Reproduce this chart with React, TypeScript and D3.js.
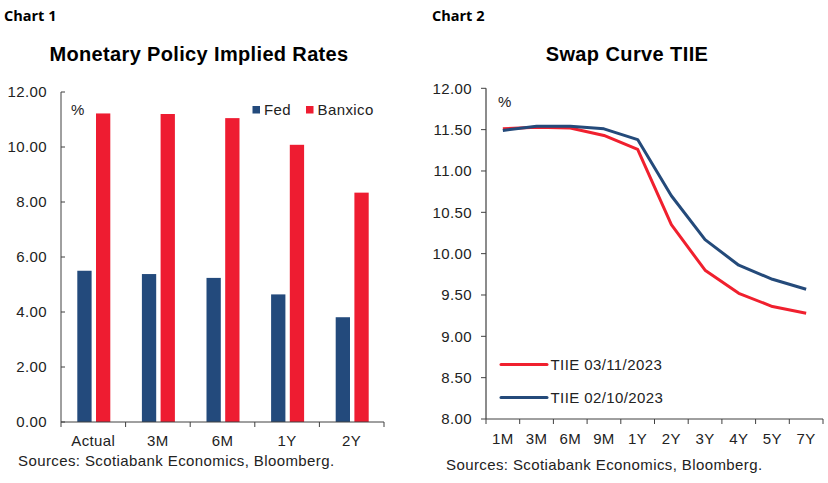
import { useEffect, useRef } from 'react';
import * as d3 from 'd3';

// Chart 1 data
const horizons = ['Actual', '3M', '6M', '1Y', '2Y'];
const fedRates = [5.5, 5.38, 5.24, 4.64, 3.81];
const banxicoRates = [11.22, 11.2, 11.05, 10.08, 8.34];
const barTicks = [0, 2, 4, 6, 8, 10, 12];

// Chart 2 data
const tenors = ['1M', '3M', '6M', '9M', '1Y', '2Y', '3Y', '4Y', '5Y', '7Y'];
const tiieNov = [11.51, 11.53, 11.52, 11.43, 11.26, 10.35, 9.8, 9.52, 9.36, 9.28];
const tiieOct = [11.49, 11.54, 11.54, 11.51, 11.38, 10.7, 10.17, 9.86, 9.69, 9.57];
const swapTicks = [8, 8.5, 9, 9.5, 10, 10.5, 11, 11.5, 12];

const BLUE = '#234a7c';
const RED = '#ee1c31';
const LINE_BLUE = '#244a7a';
const LINE_RED = '#f0202e';
const FONT = "'Liberation Sans', Arial, sans-serif";
const HEAD_FONT = "'Open Sans', 'Noto Sans', sans-serif";
const TXT = '#222';

export default function App() {
  const svgRef = useRef<SVGSVGElement>(null);

  useEffect(() => {
    const svg = d3.select(svgRef.current);
    svg.selectAll('*').remove();
    svg.append('rect').attr('width', 828).attr('height', 483).attr('fill', 'white');

    const label = (g: any, x: number, y: number, t: string, anchor = 'start') =>
      g.append('text').attr('x', x).attr('y', y).attr('text-anchor', anchor)
        .attr('font-family', FONT).attr('font-size', 15).attr('letter-spacing', 0.4)
        .attr('fill', TXT).text(t);

    // ---------- Chart 1 ----------
    svg.append('text').attr('x', 4).attr('y', 21)
      .attr('font-family', HEAD_FONT).attr('font-weight', 700).attr('font-size', 14.5)
      .text('Chart 1');
    svg.append('text').attr('x', 199).attr('y', 61).attr('text-anchor', 'middle')
      .attr('font-family', FONT).attr('font-weight', 700).attr('font-size', 20).attr('letter-spacing', 0.35)
      .text('Monetary Policy Implied Rates');

    const x1 = d3.scaleBand().domain(horizons).range([61, 384]);
    const y1 = d3.scaleLinear().domain([0, 12]).range([422, 92]);
    const g1 = svg.append('g');

    const barW = 14.3;
    horizons.forEach((h, i) => {
      const b = x1(h)!;
      g1.append('rect')
        .attr('x', b + 16.3).attr('y', y1(fedRates[i]))
        .attr('width', barW).attr('height', y1(0) - y1(fedRates[i]))
        .attr('fill', BLUE);
      g1.append('rect')
        .attr('x', b + 16.3 + barW + 4.4).attr('y', y1(banxicoRates[i]))
        .attr('width', barW).attr('height', y1(0) - y1(banxicoRates[i]))
        .attr('fill', RED);
    });

    // y axis (ticks inside)
    g1.append('line').attr('x1', 61).attr('x2', 61).attr('y1', y1(12)).attr('y2', y1(0))
      .attr('stroke', '#404040').attr('stroke-width', 1);
    barTicks.forEach(v => {
      g1.append('line').attr('x1', 61).attr('x2', 65).attr('y1', y1(v)).attr('y2', y1(v))
        .attr('stroke', '#404040');
      label(g1, 47, y1(v) + 5.4, v.toFixed(2), 'end');
    });
    // x axis
    g1.append('line').attr('x1', 61).attr('x2', 384).attr('y1', y1(0)).attr('y2', y1(0))
      .attr('stroke', '#404040');
    [...horizons.map(h => x1(h)!), 384].forEach(xv => {
      g1.append('line').attr('x1', xv).attr('x2', xv).attr('y1', y1(0)).attr('y2', y1(0) + 5)
        .attr('stroke', '#404040');
    });
    horizons.forEach(h => label(g1, x1(h)! + x1.bandwidth() / 2, 446, h, 'middle'));
    label(g1, 71, 115, '%');

    // legend
    const leg1 = [{ name: 'Fed', c: BLUE, x: 252.5 }, { name: 'Banxico', c: RED, x: 306 }];
    leg1.forEach(l => {
      g1.append('rect').attr('x', l.x).attr('y', 106).attr('width', 7.5).attr('height', 7.5).attr('fill', l.c);
      label(g1, l.x + 11.5, 115, l.name);
    });
    label(svg, 18, 466, 'Sources: Scotiabank Economics, Bloomberg.');

    // ---------- Chart 2 ----------
    svg.append('text').attr('x', 432).attr('y', 21)
      .attr('font-family', HEAD_FONT).attr('font-weight', 700).attr('font-size', 14.5)
      .text('Chart 2');
    svg.append('text').attr('x', 627).attr('y', 61).attr('text-anchor', 'middle')
      .attr('font-family', FONT).attr('font-weight', 700).attr('font-size', 20).attr('letter-spacing', 0.4)
      .text('Swap Curve TIIE');

    const x2 = d3.scaleBand().domain(tenors).range([486, 823]);
    const y2 = d3.scaleLinear().domain([8, 12]).range([419, 88.3]);
    const g2 = svg.append('g');

    g2.append('line').attr('x1', 486).attr('x2', 486).attr('y1', y2(12)).attr('y2', y2(8))
      .attr('stroke', '#8c8c8c').attr('stroke-width', 2);
    swapTicks.forEach(v => {
      g2.append('line').attr('x1', 481).attr('x2', 486).attr('y1', y2(v)).attr('y2', y2(v))
        .attr('stroke', '#404040');
      label(g2, 472, y2(v) + 5.4, v.toFixed(2), 'end');
    });
    g2.append('line').attr('x1', 486).attr('x2', 823).attr('y1', y2(8)).attr('y2', y2(8))
      .attr('stroke', '#404040');
    [...tenors.map(t => x2(t)!), 823].forEach(xv => {
      g2.append('line').attr('x1', xv).attr('x2', xv).attr('y1', y2(8)).attr('y2', y2(8) + 5)
        .attr('stroke', '#404040');
    });
    tenors.forEach(t => label(g2, x2(t)! + x2.bandwidth() / 2, 444, t, 'middle'));
    label(g2, 498, 107, '%');

    const line = d3.line<number>()
      .x((_, i) => x2(tenors[i])! + x2.bandwidth() / 2)
      .y(d => y2(d));
    g2.append('path').datum(tiieNov).attr('d', line).attr('fill', 'none')
      .attr('stroke', LINE_RED).attr('stroke-width', 3).attr('stroke-linejoin', 'round');
    g2.append('path').datum(tiieOct).attr('d', line).attr('fill', 'none')
      .attr('stroke', LINE_BLUE).attr('stroke-width', 3).attr('stroke-linejoin', 'round');

    const leg2 = [{ name: 'TIIE 03/11/2023', c: LINE_RED, y: 364.5 }, { name: 'TIIE 02/10/2023', c: LINE_BLUE, y: 397.5 }];
    leg2.forEach(l => {
      g2.append('line').attr('x1', 501).attr('x2', 547).attr('y1', l.y).attr('y2', l.y)
        .attr('stroke', l.c).attr('stroke-width', 3).attr('stroke-linecap', 'round');
      label(g2, 550.5, l.y + 5.4, l.name);
    });
    label(svg, 446, 470, 'Sources: Scotiabank Economics, Bloomberg.');
  }, []);

  return (
    <svg
      ref={svgRef}
      width={828}
      height={483}
      style={{ position: 'absolute', left: 0, top: 0, display: 'block' }}
    />
  );
}
